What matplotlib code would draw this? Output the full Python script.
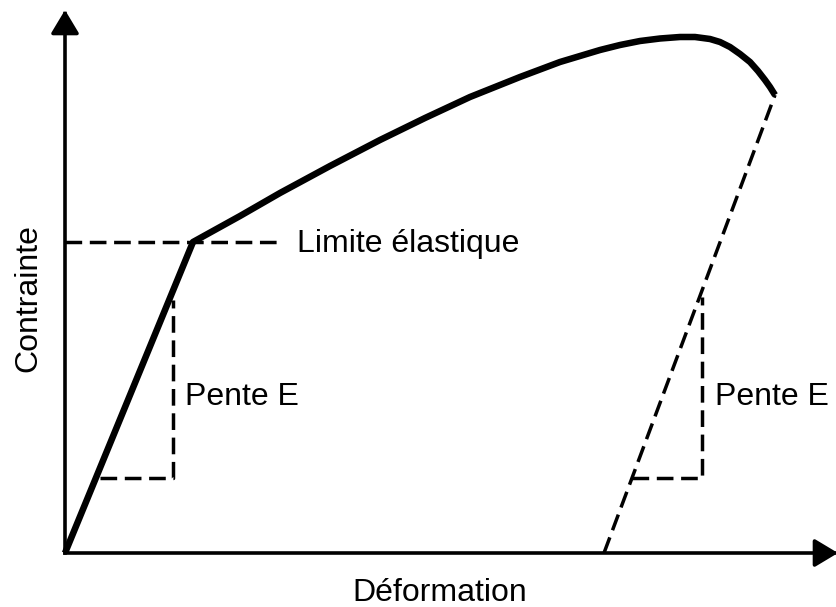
import matplotlib
matplotlib.use("Agg")
import matplotlib.pyplot as plt

plt.rcParams['font.family'] = ['Liberation Sans', 'DejaVu Sans']

# Stress-strain curve (arbitrary units: strain, stress)
strain = [0, 128, 175, 215, 265, 315, 360, 405, 455, 495, 515, 535, 555,
          575, 595, 615, 630, 645, 655, 665, 675, 685, 693, 700, 705, 710]
stress = [0, 311, 337, 360, 387, 413, 435, 456, 476, 491, 497, 503, 508,
          512, 514.5, 516, 516, 514, 511, 506, 499, 491, 482, 473, 466, 458]

# Yield point
yield_strain, yield_stress = 128, 311
yield_line_end = 217

# Unloading line (elastic recovery)
unload_strain = [539, 710]
unload_stress = [0, 458]

# Slope triangles: (x_left, x_right, y_bottom, y_top)
tri_left = (35, 108, 75, 253)
tri_right = (567, 637, 75, 256)

fig = plt.figure(figsize=(8.36, 6.07), dpi=100)
ax = fig.add_axes([0, 0, 1, 1])
ax.set_xlim(-65, 771)
ax.set_ylim(-54, 553)
ax.axis('off')

dash = (0, (4.8, 2.2))
dlw = 2.5

# Axes with arrows
arrow_kw = dict(arrowstyle='-|>,head_length=0.4,head_width=0.24', lw=2.6, color='black',
                mutation_scale=36, shrinkA=0, shrinkB=0, capstyle='projecting')
ax.annotate('', xy=(0, 543), xytext=(0, 0), arrowprops=arrow_kw, annotation_clip=False)
ax.annotate('', xy=(773, 0), xytext=(0, 0), arrowprops=arrow_kw, annotation_clip=False)

# Main curve
ax.plot(strain, stress, color='black', lw=4.7, solid_joinstyle='round', solid_capstyle='butt')

# Yield dashed line
ax.plot([0, yield_line_end], [yield_stress, yield_stress], color='black', lw=dlw, linestyle=dash)
ax.text(232, 301, 'Limite élastique', fontsize=23, ha='left', va='baseline')

# Unloading line
ax.plot(unload_strain, unload_stress, color='black', lw=dlw, linestyle=dash)

# Slope triangles
for (xl, xr, yb, yt) in (tri_left, tri_right):
    ax.plot([xl, xr, xr], [yb, yb, yt], color='black', lw=dlw, linestyle=dash)

ax.text(120, 148, 'Pente E', fontsize=23, ha='left', va='baseline')
ax.text(650, 148, 'Pente E', fontsize=23, ha='left', va='baseline')

# Axis labels
ax.text(-37, 255, 'Contrainte', fontsize=23, rotation=90, ha='center', va='center')
ax.text(375, -48, 'Déformation', fontsize=23, ha='center', va='baseline')

fig.savefig('out.png', dpi=100)
